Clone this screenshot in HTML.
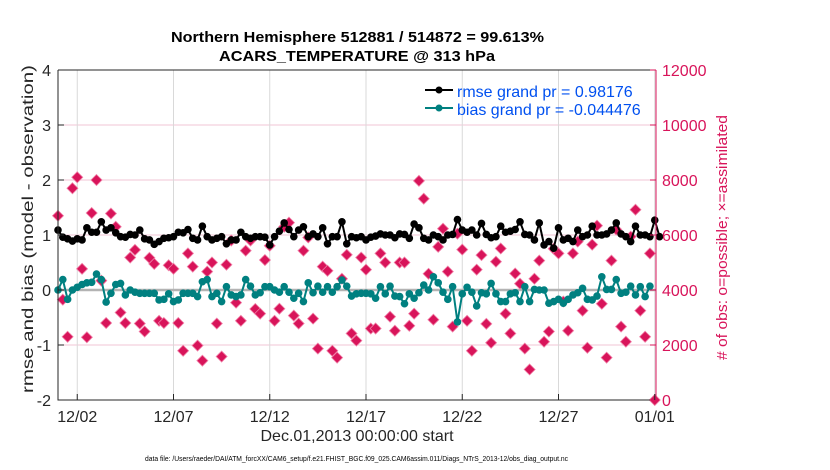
<!DOCTYPE html>
<html><head><meta charset="utf-8"><style>
body{margin:0;background:#fff;}
svg{display:block;font-family:"Liberation Sans",sans-serif;}
</style></head><body>
<svg id="chart" width="830" height="470" viewBox="0 0 830 470"></svg>
<script>
const xTickLabels=["12/02","12/07","12/12","12/17","12/22","12/27","01/01"];
const xTickDays=[1,6,11,16,21,26,31];
const leftTicks=[-2,-1,0,1,2,3,4];
const rightTicks=[0,2000,4000,6000,8000,10000,12000];
const rmse=[1.09,0.96,0.93,0.89,0.93,0.91,1.13,1.05,1.05,1.24,1.09,1.13,1.04,0.97,0.96,1.01,1.0,1.09,0.93,0.91,0.83,0.88,0.94,0.95,0.97,1.05,1.04,1.1,0.94,0.91,1.16,0.97,0.91,0.94,0.97,0.84,0.91,0.91,1.05,0.97,0.94,0.97,0.97,
0.96,0.82,0.97,1.07,1.22,1.1,0.97,1.09,1.15,0.97,1.02,0.97,1.13,0.84,0.97,0.97,1.24,0.84,0.97,0.95,0.97,0.91,0.96,0.98,1.02,1.0,1.0,0.95,1.02,1.01,0.94,1.2,1.13,0.94,0.91,1.0,0.97,0.91,1.0,1.01,1.28,1.09,
1.05,1.09,1.0,1.21,1.01,0.95,0.97,1.16,1.05,1.07,1.1,1.24,1.01,1.0,0.91,1.22,0.82,0.88,0.76,1.13,0.91,0.94,0.88,1.09,0.97,1.0,1.16,1.0,1.0,1.02,1.09,1.22,1.02,0.97,0.88,1.16,1.0,1.0,0.97,1.27,0.97];
const bias=[0.0,0.19,-0.17,0.0,0.05,0.1,0.13,0.14,0.29,0.19,-0.22,-0.06,0.1,0.12,-0.09,0,-0.04,-0.06,-0.06,-0.06,-0.06,-0.18,-0.17,-0.07,-0.21,-0.18,-0.06,-0.06,-0.06,-0.12,0.15,0.19,-0.12,-0.06,-0.21,0.06,-0.09,-0.12,-0.09,0.19,0.07,-0.09,-0.05,
0.06,0.06,0,-0.04,0.06,-0.04,-0.15,-0.06,-0.21,0.13,-0.05,0.07,-0.04,0.06,-0.04,0.06,0.18,0.07,-0.11,-0.07,-0.06,-0.06,-0.07,-0.15,0.06,-0.07,0.07,-0.11,-0.12,-0.25,-0.07,-0.15,-0.05,0.09,0,0.24,0.13,-0.04,-0.17,0.06,-0.58,
-0.07,0.05,-0.04,-0.29,-0.05,-0.07,0.12,-0.07,-0.21,-0.21,-0.07,-0.05,-0.21,0.06,-0.21,0.01,0,0,-0.24,-0.21,-0.17,-0.24,-0.17,-0.09,-0.05,0.03,-0.17,-0.18,-0.11,0.24,0.01,0.01,0.19,-0.06,-0.04,0.07,-0.09,0.06,-0.12,0.07];
const nobs=[6700,3650,2300,7700,8100,4770,2280,6800,8000,4340,2800,6780,6300,3180,2800,5180,5460,2780,2490,5170,4950,2880,2800,4900,4770,2800,1790,5330,4850,1980,1430,4670,5000,2780,1580,4920,5800,3540,2880,5430,5800,3310,3140,
5090,5610,2880,3320,6300,6450,3070,2780,5430,5910,2960,1870,4850,4700,1790,1540,4410,5280,2420,2160,5180,4740,2600,2600,5330,5000,3030,2520,5000,5000,2700,3140,7970,7320,4590,2920,5570,6230,4670,2670,
6050,5470,2880,1790,4740,5270,2770,2080,5030,5510,3140,2420,4600,4230,1870,1110,4410,5070,2120,2490,5500,5330,3580,2520,5330,5760,3250,1900,5650,6340,3500,1540,5070,6200,2670,2120,5940,6920,3250,2300,5330,0];

const NS="http://www.w3.org/2000/svg";
const svg=document.getElementById('chart');
const L=58,R=656,T=70,B=400;
function xs(day){return L+day*19.25;}
function yl(v){return 290-55*v;}
function yr(c){return B-c*(B-T)/12000;}
function el(tag,attrs,parent){const e=document.createElementNS(NS,tag);for(const k in attrs)e.setAttribute(k,attrs[k]);(parent||svg).appendChild(e);return e;}
const red="#d8145a";
leftTicks.forEach(v=>{if(v>-2&&v<4){const g=el('line',{x1:L,x2:R,y1:yl(v),y2:yl(v),stroke:'#f2c6d6','stroke-width':1});

}});
xTickDays.forEach(d=>{const g=el('line',{x1:xs(d),x2:xs(d),y1:T,y2:B,stroke:'#d9d9d9','stroke-width':1});

});
const z=el('line',{x1:L,x2:R,y1:yl(0),y2:yl(0),stroke:'#b3b3b3','stroke-width':2.5});


nobs.forEach((c,i)=>{const x=xs(i*0.25),y=yr(c);
const m=el('path',{d:`M${x} ${y-5.5}L${x+5.5} ${y}L${x} ${y+5.5}L${x-5.5} ${y}Z`,fill:red,stroke:'#f07fa6','stroke-width':0.8});

});
function series(vals,color,name){
const pts=vals.map((v,i)=>xs(i*0.25)+','+yl(v)).join(' ');
const pl=el('polyline',{points:pts,fill:'none',stroke:color,'stroke-width':2});


vals.forEach((v,i)=>{const c=el('circle',{cx:xs(i*0.25),cy:yl(v),r:3.8,fill:color});

});}
series(bias,'#008080','bias');
series(rmse,'#000000','rmse');
const ax=el('path',{d:`M${L} ${T}V${B}H${R}`,fill:'none',stroke:'#262626','stroke-width':1});


const tp=el('line',{x1:L,x2:R,y1:T,y2:T,stroke:'#262626','stroke-width':1});


const ra=el('line',{x1:R,x2:R,y1:T,y2:B,stroke:red,'stroke-width':1});


leftTicks.forEach(v=>{el('line',{x1:L,x2:L+6,y1:yl(v),y2:yl(v),stroke:'#262626'});
const t=el('text',{x:L-7,y:yl(v)+6,'text-anchor':'end','font-size':16,fill:'#262626'});t.textContent=v;

});
rightTicks.forEach(c=>{el('line',{x1:R-6,x2:R,y1:yr(c),y2:yr(c),stroke:red});
const t=el('text',{x:R+6,y:yr(c)+6,'font-size':16,fill:red});t.textContent=c;

});
xTickDays.forEach((d,i)=>{el('line',{x1:xs(d),x2:xs(d),y1:B,y2:B-6,stroke:'#262626'});
const t=el('text',{x:xs(d),y:B+22,'text-anchor':'middle','font-size':16,fill:'#262626'});t.textContent=xTickLabels[i];

});
</script>
<svg style="position:absolute;left:0;top:0" width="830" height="470">
<text x="171" y="42" textLength="373" lengthAdjust="spacingAndGlyphs" font-size="15" font-weight="bold" font-family="Liberation Sans,sans-serif">Northern Hemisphere 512881 / 514872 = 99.613%</text>
<text x="219" y="61" textLength="276" lengthAdjust="spacingAndGlyphs" font-size="15" font-weight="bold" font-family="Liberation Sans,sans-serif">ACARS_TEMPERATURE @ 313 hPa</text>
<text x="357" y="441" text-anchor="middle" font-size="16" fill="#262626" font-family="Liberation Sans,sans-serif">Dec.01,2013 00:00:00 start</text>
<text x="145" y="461" textLength="423" lengthAdjust="spacingAndGlyphs" font-size="7.5" fill="#000" font-family="Liberation Sans,sans-serif">data file: /Users/raeder/DAI/ATM_forcXX/CAM6_setup/f.e21.FHIST_BGC.f09_025.CAM6assim.011/Diags_NTrS_2013-12/obs_diag_output.nc</text>
<text transform="translate(33,393) rotate(-90)" textLength="328" lengthAdjust="spacingAndGlyphs" font-size="16" fill="#262626" font-family="Liberation Sans,sans-serif">rmse and bias (model - observation)</text>
<text transform="translate(727,360) rotate(-90)" textLength="245" lengthAdjust="spacingAndGlyphs" font-size="15" fill="#d8145a" font-family="Liberation Sans,sans-serif"># of obs: o=possible; ×=assimilated</text>
<g><line x1="425" x2="453" y1="90" y2="90" stroke="#000" stroke-width="2"/><circle cx="439" cy="90" r="3.5" fill="#000"/><text x="457" y="97" font-size="16" fill="#0050f0" font-family="Liberation Sans,sans-serif">rmse grand pr = 0.98176</text></g>
<g><line x1="425" x2="453" y1="108" y2="108" stroke="#008080" stroke-width="2"/><circle cx="439" cy="108" r="3.5" fill="#008080"/><text x="457" y="115" font-size="16" fill="#0050f0" font-family="Liberation Sans,sans-serif">bias grand pr = -0.044476</text></g>
</svg>
</body></html>
